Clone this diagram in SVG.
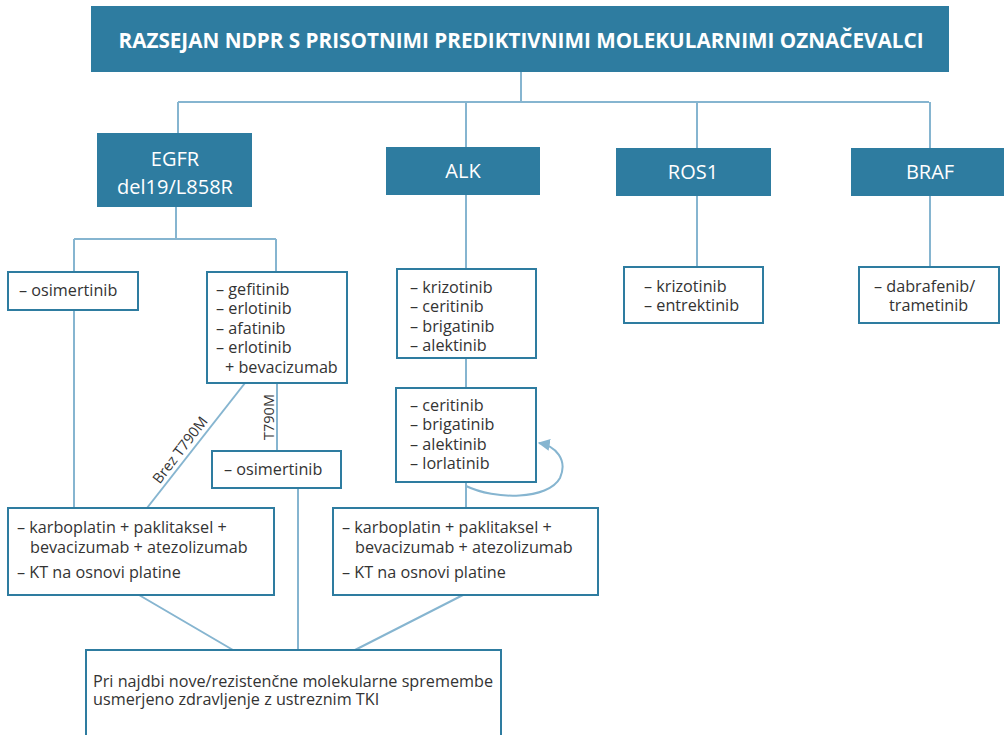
<svg xmlns="http://www.w3.org/2000/svg" width="1004" height="735" viewBox="0 0 1004 735">
<defs>
<style>
.hdr{fill:#2e7ca0;}
.box{fill:#fff;stroke:#2e7ca0;stroke-width:2;}
.ln{fill:none;stroke:#86b5d0;stroke-width:2;}
.ht{font-family:"Open Sans","DejaVu Sans",sans-serif;fill:#fff;font-size:20px;text-anchor:middle;}
.tt{font-family:"Open Sans","DejaVu Sans",sans-serif;fill:#fff;font-size:20.7px;font-weight:bold;text-anchor:middle;}
.t{font-family:"Open Sans","DejaVu Sans",sans-serif;fill:#333;font-size:16.2px;}
.lb{font-family:"Open Sans","DejaVu Sans",sans-serif;fill:#333;font-size:14.5px;}
</style>
<marker id="ah" viewBox="0 0 10 10" refX="9" refY="5" markerWidth="6" markerHeight="6" orient="auto">
<path d="M0,0 L10,5 L0,10 z" fill="#86b5d0"/>
</marker>
</defs>
<rect width="1004" height="735" fill="#fff"/>
<g id="connectors">
<path class="ln" d="M521,72 V102 M178,102 H929 M178,102 V133 M466,102 V147 M697,102 V148 M930,102 V148"/>
<path class="ln" d="M176,207 V239 M74,239 H276 M74,239 V272 M276,239 V272"/>
<path class="ln" d="M74,310 V508"/>
<path class="ln" d="M277,383 V451"/>
<path class="ln" d="M245,383 L147,508"/>
<path class="ln" d="M298,488 V650"/>
<path class="ln" d="M466,195 V269 M466,358 V388 M466,482 V508"/>
<path class="ln" d="M697,196 V267 M930,196 V267"/>
<path class="ln" d="M466,486 C495,500 548,500 560,478 C568,460 556,446 539,443" marker-end="url(#ah)"/>
<path class="ln" d="M139,595 L233,650 M463,595 L355,650"/>
<text class="lb" transform="translate(274,417) rotate(-90)" text-anchor="middle">T790M</text>
<text class="lb" transform="translate(184,453) rotate(-52.5)" text-anchor="middle">Brez T790M</text>
</g>
<g id="title">
<rect class="hdr" x="91" y="6" width="858" height="66"/>
<text class="tt" x="521" y="48">RAZSEJAN NDPR S PRISOTNIMI PREDIKTIVNIMI MOLEKULARNIMI OZNAČEVALCI</text>
</g>
<g id="egfr">
<rect class="hdr" x="97" y="133" width="155" height="74"/>
<text class="ht" x="175" y="166">EGFR</text>
<text class="ht" x="175" y="194">del19/L858R</text>
</g>
<g id="alk">
<rect class="hdr" x="386" y="147" width="154" height="48"/>
<text class="ht" x="463" y="178">ALK</text>
</g>
<g id="ros1">
<rect class="hdr" x="616" y="148" width="155" height="48"/>
<text class="ht" x="693" y="179">ROS1</text>
</g>
<g id="braf">
<rect class="hdr" x="851" y="148" width="160" height="48"/>
<text class="ht" x="930" y="179">BRAF</text>
</g>
<g id="egfr-osi">
<rect class="box" x="8" y="272" width="130" height="38"/>
<text class="t" x="19" y="296">– osimertinib</text>
</g>
<g id="egfr-tki">
<rect class="box" x="207" y="272" width="140" height="111"/>
<text class="t" x="216" y="295">– gefitinib</text>
<text class="t" x="216" y="314">– erlotinib</text>
<text class="t" x="216" y="334">– afatinib</text>
<text class="t" x="216" y="353">– erlotinib</text>
<text class="t" x="225" y="373">+ bevacizumab</text>
</g>
<g id="egfr-osi2">
<rect class="box" x="212" y="451" width="129" height="37"/>
<text class="t" x="224" y="475">– osimertinib</text>
</g>
<g id="alk-1">
<rect class="box" x="397" y="269" width="139" height="89"/>
<text class="t" x="410" y="293">– krizotinib</text>
<text class="t" x="410" y="312">– ceritinib</text>
<text class="t" x="410" y="332">– brigatinib</text>
<text class="t" x="410" y="351">– alektinib</text>
</g>
<g id="alk-2">
<rect class="box" x="396" y="388" width="140" height="94"/>
<text class="t" x="410" y="411">– ceritinib</text>
<text class="t" x="410" y="430">– brigatinib</text>
<text class="t" x="410" y="450">– alektinib</text>
<text class="t" x="410" y="469">– lorlatinib</text>
</g>
<g id="ros1-drugs">
<rect class="box" x="624" y="267" width="139" height="56"/>
<text class="t" x="644" y="292">– krizotinib</text>
<text class="t" x="644" y="311">– entrektinib</text>
</g>
<g id="braf-drugs">
<rect class="box" x="859" y="267" width="140" height="56"/>
<text class="t" x="874" y="292">– dabrafenib/</text>
<text class="t" x="889" y="311">trametinib</text>
</g>
<g id="kt-left">
<rect class="box" x="8" y="508" width="266" height="87"/>
<text class="t" x="17" y="533">– karboplatin + paklitaksel +</text>
<text class="t" x="30" y="553">bevacizumab + atezolizumab</text>
<text class="t" x="17" y="578">– KT na osnovi platine</text>
</g>
<g id="kt-right">
<rect class="box" x="333" y="508" width="265" height="87"/>
<text class="t" x="342" y="533">– karboplatin + paklitaksel +</text>
<text class="t" x="355" y="553">bevacizumab + atezolizumab</text>
<text class="t" x="342" y="578">– KT na osnovi platine</text>
</g>
<g id="final">
<rect class="box" x="86" y="650" width="415" height="95"/>
<text class="t" x="93" y="687">Pri najdbi nove/rezistenčne molekularne spremembe</text>
<text class="t" x="93" y="705">usmerjeno zdravljenje z ustreznim TKI</text>
</g>
</svg>
